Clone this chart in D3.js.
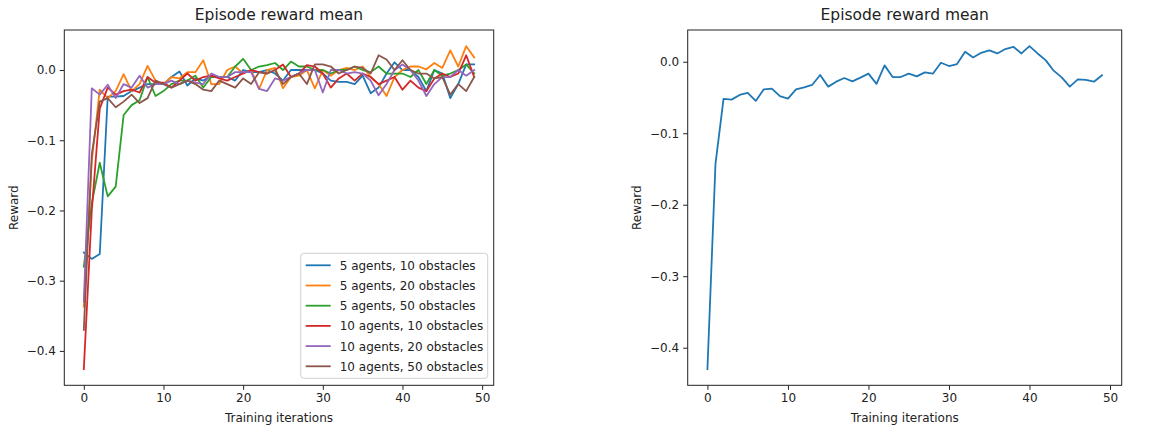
<!DOCTYPE html>
<html>
<head>
<meta charset="utf-8">
<script src="https://cdn.jsdelivr.net/npm/d3@7"></script>
<style>
  body { margin: 0; background: #fff; }
  svg { font-family: "DejaVu Sans", sans-serif; }
</style>
</head>
<body>
<div id="chart-area"></div>
<script>
// iterations 0..49
var iterations = d3.range(50);

var seriesNames = [
  "5 agents, 10 obstacles",
  "5 agents, 20 obstacles",
  "5 agents, 50 obstacles",
  "10 agents, 10 obstacles",
  "10 agents, 20 obstacles",
  "10 agents, 50 obstacles"
];

var a5o10 = [-0.26, -0.269, -0.262, -0.038, -0.038, -0.037, -0.03, -0.025, -0.02, -0.02,
  -0.02, -0.01, -0.002, -0.022, -0.012, -0.015, -0.008, -0.01, -0.01, -0.015,
  0.0, -0.003, -0.003, 0.0, -0.005, -0.015, 0.0, 0.0, 0.0, 0.0,
  -0.005, -0.015, -0.017, -0.017, -0.02, -0.008, -0.033, -0.025, -0.005, 0.011,
  0.0, 0.0, -0.01, -0.03, 0.0, -0.005, -0.04, -0.02, 0.008, 0.008];
var a5o20 = [-0.337, -0.13, -0.028, -0.04, -0.03, -0.006, -0.03, -0.02, 0.006, -0.015,
  -0.02, -0.01, -0.012, -0.003, -0.003, 0.014, -0.02, -0.02, 0.0, 0.005,
  -0.005, 0.0, -0.027, 0.0, 0.003, -0.026, -0.01, -0.008, 0.0, -0.026,
  0.0, -0.008, 0.0, 0.003, 0.0, 0.005, -0.01, -0.02, -0.037, -0.01,
  0.0, 0.005, 0.005, 0.001, 0.01, 0.003, 0.028, 0.005, 0.034, 0.018];
var a5o50 = [-0.28, -0.19, -0.132, -0.18, -0.166, -0.064, -0.05, -0.043, -0.01, -0.037,
  -0.03, -0.02, -0.015, -0.015, -0.008, -0.025, -0.01, -0.01, -0.01, 0.005,
  0.016, 0.0, 0.005, 0.007, 0.01, 0.0, 0.012, 0.005, 0.005, 0.0,
  0.0, -0.005, 0.0, 0.0, 0.005, 0.0, -0.003, 0.005, -0.005, -0.005,
  -0.005, -0.01, 0.0, -0.02, 0.0, -0.008, -0.005, 0.0, 0.008, -0.005];
var a10o10 = [-0.426, -0.2, -0.055, -0.025, -0.035, -0.03, -0.028, -0.032, -0.01, -0.018,
  -0.018, -0.025, -0.015, -0.005, -0.015, -0.01, -0.008, -0.012, -0.015, -0.01,
  -0.005, 0.0, -0.003, -0.005, 0.0, 0.008, -0.01, -0.005, 0.007, 0.005,
  -0.005, -0.025, -0.012, -0.005, -0.015, -0.005, -0.01, -0.02, -0.015, -0.01,
  -0.028, -0.015, -0.025, -0.03, -0.012, -0.005, -0.01, -0.005, 0.021, -0.01];
var a10o20 = [-0.33, -0.026, -0.035, -0.021, -0.04, -0.02, -0.025, -0.008, -0.025, -0.02,
  -0.02, -0.015, -0.02, -0.015, -0.018, -0.02, -0.005, -0.01, -0.01, -0.003,
  -0.003, -0.003, -0.027, -0.03, -0.012, -0.015, -0.01, -0.005, 0.0, 0.0,
  -0.032, 0.0, 0.0, -0.005, -0.003, -0.005, -0.015, -0.036, -0.02, 0.0,
  0.008, 0.0, -0.015, -0.037, -0.02, -0.01, -0.01, 0.0, -0.008, 0.0];
var a10o50 = [-0.37, -0.12, -0.045, -0.04, -0.053, -0.045, -0.035, -0.047, -0.04, -0.015,
  -0.02, -0.025, -0.02, -0.015, -0.02, -0.028, -0.03, -0.015, -0.02, -0.025,
  -0.012, -0.02, -0.003, -0.005, 0.0, -0.02, -0.01, -0.005, -0.02, 0.008,
  0.008, 0.005, -0.005, 0.0, 0.005, 0.003, -0.005, 0.021, 0.015, 0.0,
  0.014, 0.0, -0.005, -0.005, -0.012, -0.01, -0.035, -0.02, -0.03, -0.01];

var meanReward = [-0.430, -0.143, -0.052, -0.053, -0.0465, -0.0437, -0.0548, -0.0386, -0.0376, -0.048,
  -0.0516, -0.0386, -0.036, -0.0325, -0.0186, -0.0348, -0.0279, -0.0228, -0.0274, -0.0223,
  -0.0167, -0.031, -0.0051, -0.0214, -0.0214, -0.0167, -0.0204, -0.0149, -0.0167, -0.0014,
  -0.006, -0.0033, 0.0139, 0.006, 0.0125, 0.0158, 0.0116, 0.0177, 0.0209, 0.0116,
  0.0218, 0.0116, 0.0023, -0.0125, -0.0218, -0.0348, -0.0246, -0.0255, -0.0279, -0.019];

var xTicks = [0, 10, 20, 30, 40, 50];
var yTicks = [-0.4, -0.3, -0.2, -0.1, 0.0];

var colors = ["#1f77b4", "#ff7f0e", "#2ca02c", "#d62728", "#9467bd", "#8c564b"];

var leftSeries = [a5o10, a5o20, a5o50, a10o10, a10o20, a10o50];

var svg = d3.select("#chart-area")
  .append("svg")
    .attr("width", 1173)
    .attr("height", 430);

function padded(lo, hi) {
  var m = (hi - lo) * 0.05;
  return [lo - m, hi + m];
}

function drawPanel(box, seriesList, showLegend) {
  var w = box.right - box.left, h = box.bottom - box.top;
  var g = svg.append("g")
    .attr("transform", "translate(" + box.left + "," + box.top + ")");

  var allY = [].concat.apply([], seriesList);
  var x = d3.scaleLinear()
    .domain(padded(0, iterations.length - 1))
    .range([0, w]);
  var y = d3.scaleLinear()
    .domain(padded(d3.min(allY), d3.max(allY)))
    .range([h, 0]);

  var xAxis = d3.axisBottom(x).tickValues(xTicks).tickFormat(d3.format("d"))
    .tickSizeInner(4.5).tickSizeOuter(0).tickPadding(4);
  var yAxis = d3.axisLeft(y).tickValues(yTicks).tickFormat(d3.format(".1f"))
    .tickSizeInner(4.5).tickSizeOuter(0).tickPadding(4);

  var line = d3.line()
    .x(function (d, i) { return x(iterations[i]); })
    .y(function (d) { return y(d); });

  var clip = "clip" + Math.round(box.left);
  g.append("clipPath").attr("id", clip)
    .append("rect").attr("width", w).attr("height", h);

  g.append("g").attr("clip-path", "url(#" + clip + ")")
    .selectAll("path")
    .data(seriesList)
    .enter()
    .append("path")
      .attr("d", line)
      .attr("fill", "none")
      .attr("stroke", function (d, i) { return colors[i]; })
      .attr("stroke-width", 1.8)
      .attr("stroke-linejoin", "round")
      .attr("stroke-linecap", "square");

  g.append("g")
    .attr("transform", "translate(0," + h + ")")
    .call(xAxis);
  g.append("g")
    .call(yAxis);

  g.selectAll(".tick text").attr("font-size", 12).attr("fill", "#222")
    .attr("font-family", "DejaVu Sans, sans-serif");
  g.selectAll(".tick line").attr("stroke", "#222");
  g.selectAll(".domain").remove();

  g.append("rect")
    .attr("width", w).attr("height", h)
    .attr("fill", "none").attr("stroke", "#222").attr("stroke-width", 1);

  g.append("text")
    .attr("x", w / 2).attr("y", -10)
    .attr("text-anchor", "middle")
    .attr("font-size", 15.5)
    .attr("fill", "#222")
    .text("Episode reward mean");

  g.append("text")
    .attr("x", w / 2).attr("y", h + 37)
    .attr("text-anchor", "middle")
    .attr("font-size", 12)
    .attr("fill", "#222")
    .text("Training iterations");

  g.append("text")
    .attr("transform", "translate(" + box.ylab + "," + (h / 2) + ") rotate(-90)")
    .attr("text-anchor", "middle")
    .attr("font-size", 12)
    .attr("fill", "#222")
    .text("Reward");

  if (showLegend) {
    var lg = g.append("g").attr("transform", "translate(" + (w - 193) + "," + (h - 132) + ")");
    lg.append("rect")
      .attr("width", 187).attr("height", 125)
      .attr("rx", 3)
      .attr("fill", "#fff").attr("fill-opacity", 0.8)
      .attr("stroke", "#d0d0d0");
    var items = lg.selectAll(".item")
      .data(seriesNames)
      .enter()
      .append("g")
        .attr("transform", function (d, i) { return "translate(0," + (12 + i * 20.2) + ")"; });
    items.append("line")
      .attr("x1", 5).attr("x2", 30)
      .attr("stroke", function (d, i) { return colors[i]; })
      .attr("stroke-width", 1.8);
    items.append("text")
      .attr("x", 39).attr("y", 4.5)
      .attr("font-size", 12)
      .attr("fill", "#222")
      .text(function (d) { return d; });
  }
}

drawPanel({ left: 64.3, right: 493.7, top: 30, bottom: 385.3, ylab: -46 }, leftSeries, true);
drawPanel({ left: 687.7, right: 1121.7, top: 30, bottom: 385.3, ylab: -47 }, [meanReward], false);
</script>
</body>
</html>
